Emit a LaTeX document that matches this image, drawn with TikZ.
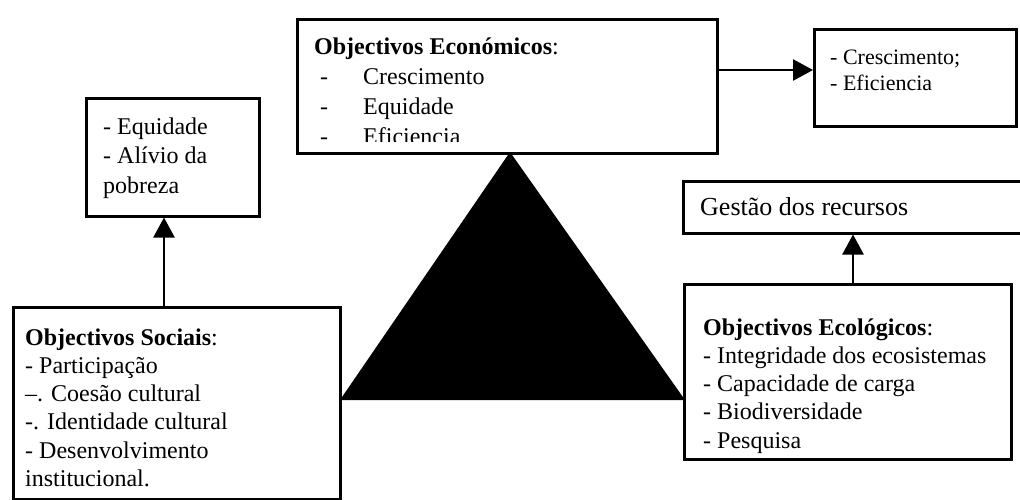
\documentclass[tikz,border=0pt]{standalone}
\usepackage{fontspec}
\setmainfont{Liberation Serif}
\usetikzlibrary{arrows.meta,calc}
\begin{document}
\begin{tikzpicture}[x=1pt,y=-1pt,
  box/.style={draw, line width=2.5pt, fill=white, inner sep=0pt, anchor=north west},
  txt/.style={inner sep=0pt, anchor=base west},
  arr/.style={line width=2.5pt, -{Triangle[length=20pt,width=21pt]}}]
\useasboundingbox (0,0) rectangle (1020,499);
% central triangle
\fill[black] (510,152) -- (340,400) -- (685,400) -- cycle;
% top box
\node[box, minimum width=420pt, minimum height=134pt] (eco1) at (296,18) {};
\begin{scope}
\clip (298,20) rectangle (714,141);
\node[txt] (ectx) at (314,54) {\parbox[t]{400pt}{\fontsize{24}{30.3}\selectfont
\textbf{Objectivos Económicos}:\\
\makebox[49pt][l]{\hspace{6pt}-}Crescimento\\
\makebox[49pt][l]{\hspace{6pt}-}Equidade\\
\makebox[49pt][l]{\hspace{6pt}-}Eficiencia}};
\end{scope}
% top right box
\node[box, minimum width=202pt, minimum height=97pt] (econres) at (813,28) {};
\node[txt] (econrestx) at (830,64) {\parbox[t]{180pt}{\fontsize{22}{26}\selectfont
- Crescimento;\\
- Eficiencia}};
\coordinate (a3) at (0,70);
\draw[arr] (eco1.east |- a3) -- (econres.west |- a3);
% left small box
\node[box, minimum width=173pt, minimum height=118pt] (socres) at (85,97) {};
\node[txt] (socrestx) at (103,134) {\parbox[t]{150pt}{\fontsize{24}{29.5}\selectfont
- Equidade\\
- Alívio da\\
pobreza}};
% social box
\node[box, minimum width=327pt, minimum height=192pt] (soc) at (12,306) {};
\node[txt] (soctx) at (25,345) {\parbox[t]{310pt}{\fontsize{24}{28.3}\selectfont
\textbf{Objectivos Sociais}:\\
- Participação\\
--. Coesão cultural\\
-. Identidade cultural\\
- Desenvolvimento\\
institucional.}};
\coordinate (a1) at (164,0);
\draw[arr] (soc.north -| a1) -- (socres.south -| a1);
% Gestao box
\node[box, minimum width=350pt, minimum height=52pt] (gest) at (682,180) {};
\node[txt] (gesttx) at (700,215) {\fontsize{26}{28}\selectfont Gestão dos recursos};
% ecological box
\node[box, minimum width=327pt, minimum height=175pt] (ecol) at (683,283) {};
\node[txt] (ecoltx) at (703,335) {\parbox[t]{300pt}{\fontsize{24}{28.3}\selectfont
\textbf{Objectivos Ecológicos}:\\
- Integridade dos ecosistemas\\
- Capacidade de carga\\
- Biodiversidade\\
- Pesquisa}};
\coordinate (a2) at (853,0);
\draw[arr] (ecol.north -| a2) -- (gest.south -| a2);
\end{tikzpicture}
\end{document}
